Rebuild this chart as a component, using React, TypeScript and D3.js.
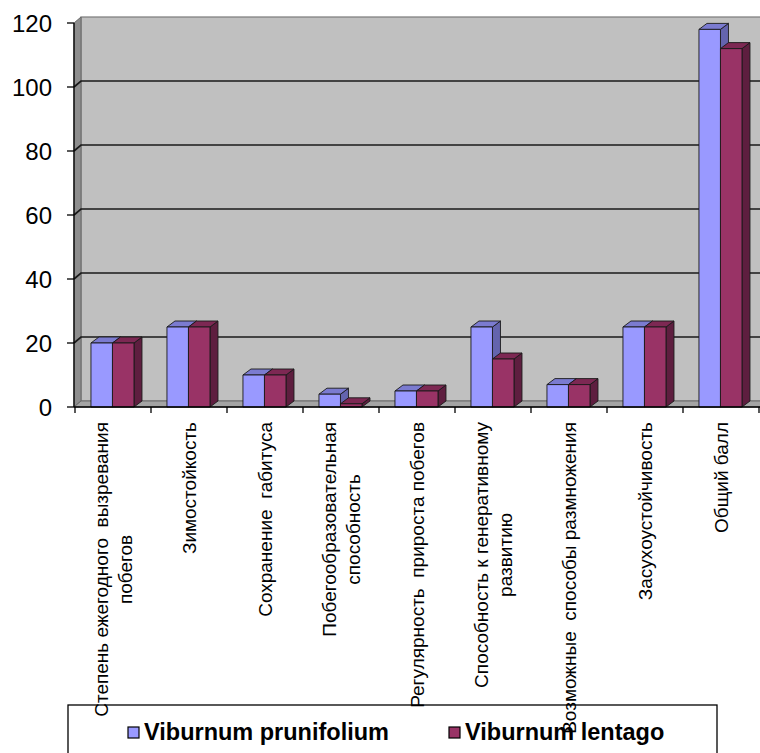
import React, { useEffect, useRef } from "react";
import * as d3 from "d3";

const categories = ["c1", "c2", "c3", "c4", "c5", "c6", "c7", "c8", "c9"];
const labelLines: string[][] = [
  ["Степень ежегодного  вызревания", "побегов"],
  ["Зимостойкость"],
  ["Сохранение  габитуса"],
  ["Побегообразовательная", "способность"],
  ["Регулярность  прироста побегов"],
  ["Способность к генеративному", "развитию"],
  ["Возможные  способы размножения"],
  ["Засухоустойчивость"],
  ["Общий балл"],
];
const prunifolium = [20, 25, 10, 4, 5, 25, 7, 25, 118];
const lentago = [20, 25, 10, 1, 5, 15, 7, 25, 112];
const yTicks = [0, 20, 40, 60, 80, 100, 120];
const seriesNames = ["Viburnum prunifolium", "Viburnum lentago"];

const FONT = "'Liberation Sans', Arial, sans-serif";

export default function App() {
  const ref = useRef<SVGSVGElement>(null);
  useEffect(() => {
    const svg = d3.select(ref.current);
    svg.selectAll("*").remove();
    const W = 760;
    const dx = 7;
    const dy = 6;
    const axisX = 74;
    const y = d3.scaleLinear().domain([0, 120]).range([407, 23]);
    const x = d3.scaleBand<string>().domain(categories).range([75, 759]).padding(0);
    const bw = x.bandwidth();
    const y0 = y(0);

    const series = [
      { name: seriesNames[0], values: prunifolium, front: "#9999FF", top: "#7B7BD0", side: "#6464AE" },
      { name: seriesNames[1], values: lentago, front: "#993366", top: "#7D2853", side: "#5E1E3F" },
    ];

    // back wall
    svg.append("rect").attr("x", axisX + dx).attr("y", y(120) - dy)
      .attr("width", W - axisX - dx + 10).attr("height", y0 - y(120))
      .attr("fill", "#C0C0C0").attr("stroke", "#7a7a7a").attr("stroke-width", 1.2);
    // left wall
    svg.append("polygon")
      .attr("points", [[axisX, y(120)], [axisX + dx, y(120) - dy], [axisX + dx, y0 - dy], [axisX, y0]].map(p => p.join(",")).join(" "))
      .attr("fill", "#8E8E8E").attr("stroke", "#6a6a6a").attr("stroke-width", 1);
    // floor
    svg.append("polygon")
      .attr("points", [[axisX, y0], [axisX + dx, y0 - dy], [W + 10, y0 - dy], [W + 10, y0]].map(p => p.join(",")).join(" "))
      .attr("fill", "#A4A4A4").attr("stroke", "#6a6a6a").attr("stroke-width", 1);

    // gridlines
    yTicks.filter(t => t > 0 && t < 120).forEach(t => {
      svg.append("polyline")
        .attr("points", [[axisX, y(t)], [axisX + dx, y(t) - dy], [W + 10, y(t) - dy]].map(p => p.join(",")).join(" "))
        .attr("fill", "none").attr("stroke", "#1a1a1a").attr("stroke-width", 1.7);
    });

    // bars
    const off = bw * 0.21;
    const barW = bw * 0.283;
    categories.forEach((c, i) => {
      series.forEach((s, si) => {
        const v = s.values[i];
        const x0 = (x(c) as number) + off + si * barW;
        const top = y(v);
        const g = svg.append("g").attr("stroke", "#1a1a1a").attr("stroke-width", 0.9).attr("stroke-linejoin", "round");
        g.append("polygon")
          .attr("points", [[x0 + barW, top], [x0 + barW + dx + 1, top - dy], [x0 + barW + dx + 1, y0 - dy], [x0 + barW, y0]].map(p => p.join(",")).join(" "))
          .attr("fill", s.side);
        g.append("polygon")
          .attr("points", [[x0, top], [x0 + dx + 1, top - dy], [x0 + barW + dx + 1, top - dy], [x0 + barW, top]].map(p => p.join(",")).join(" "))
          .attr("fill", s.top);
        g.append("rect").attr("x", x0).attr("y", top).attr("width", barW).attr("height", y0 - top).attr("fill", s.front);
      });
    });

    // axes
    svg.append("line").attr("x1", axisX).attr("x2", axisX).attr("y1", y(120)).attr("y2", y0).attr("stroke", "#000").attr("stroke-width", 1.3);
    svg.append("line").attr("x1", axisX).attr("x2", W + 10).attr("y1", y0).attr("y2", y0).attr("stroke", "#000").attr("stroke-width", 1.3);
    yTicks.forEach(t => {
      svg.append("line").attr("x1", axisX - 7).attr("x2", axisX).attr("y1", y(t)).attr("y2", y(t)).attr("stroke", "#000").attr("stroke-width", 1.3);
      svg.append("text").attr("x", 52).attr("y", y(t)).attr("dy", "0.36em").attr("text-anchor", "end")
        .attr("font-family", FONT).attr("font-size", 24).attr("fill", "#000").text(String(t));
    });
    d3.range(categories.length + 1).forEach(k => {
      const xx = 75 + k * bw;
      svg.append("line").attr("x1", xx).attr("x2", xx).attr("y1", y0).attr("y2", y0 + 6).attr("stroke", "#000").attr("stroke-width", 1.3);
    });

    // legend
    svg.append("rect").attr("x", 68).attr("y", 705).attr("width", 649).attr("height", 70)
      .attr("fill", "#fff").attr("stroke", "#000").attr("stroke-width", 1.3);
    const legX = [128, 449];
    series.forEach((s, si) => {
      svg.append("rect").attr("x", legX[si]).attr("y", 727).attr("width", 11).attr("height", 11)
        .attr("fill", s.front).attr("stroke", "#000").attr("stroke-width", 1.2);
      svg.append("text").attr("x", legX[si] + 16).attr("y", 740).attr("font-family", FONT)
        .attr("font-weight", "bold").attr("font-size", 23.5).attr("fill", "#000").text(s.name);
    });

    // category labels
    const fs = 19;
    categories.forEach((c, i) => {
      const lines = labelLines[i];
      const cx = (x(c) as number) + bw / 2;
      const g = svg.append("g").attr("transform", `translate(${cx},422) rotate(-90)`);
      const texts = lines.map(l => g.append("text").attr("font-family", FONT).attr("font-size", fs)
        .attr("fill", "#000").style("white-space", "pre").attr("text-anchor", "middle").text(l));
      const L = d3.max(texts, t => (t.node() as SVGTextElement).getComputedTextLength()) || 0;
      const n = lines.length;
      texts.forEach((t, j) => {
        t.attr("x", -L / 2).attr("y", (j - (n - 1) / 2) * 24.5 + fs * 0.36);
      });
    });
  }, []);
  return (
    <svg ref={ref} width={760} height={753} style={{ position: "absolute", left: 0, top: 0, background: "#fff" }} />
  );
}
